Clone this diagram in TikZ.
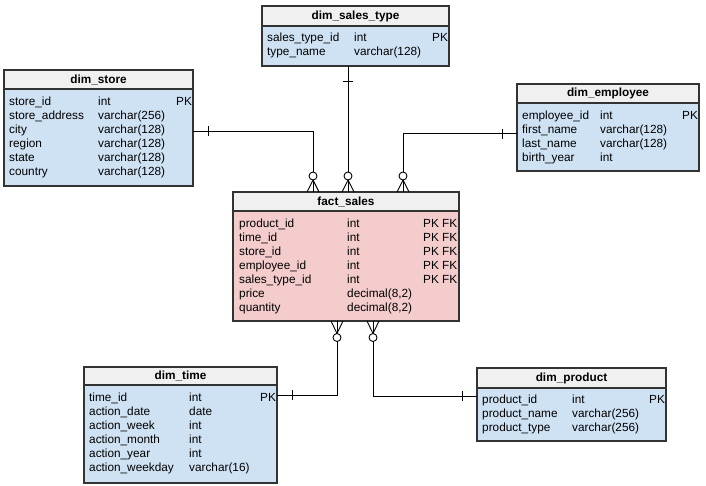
\documentclass[tikz,border=0pt]{standalone}
\usepackage{fontspec}
\setmainfont{Liberation Sans}
\definecolor{bodyblue}{HTML}{CFE2F3}
\definecolor{bodypink}{HTML}{F4CCCC}
\definecolor{headgray}{HTML}{F0F0F0}
\definecolor{edgegray}{HTML}{333333}
\newcommand\ertable[8]{%
  \node[tbl, fill=#7, minimum width=#4pt, minimum height=#5pt] (#1) at (#2,#3) {};
  \node[hdr, minimum width=#4pt, minimum height=#6pt] (#1-h) at (#2,#3) {#8};
}
\newcommand\errows[6]{%
  \foreach \ca/\cb/\cc [count=\i from 0] in {#6} {
    \node[txt] (#1-a\i) at (#2, #5+\i*14) {\ca};
    \node[txt] (#1-b\i) at (#3, #5+\i*14) {\cb};
    \node[txt] (#1-c\i) at (#4, #5+\i*14) {\cc};
  }
}
\begin{document}
\begin{tikzpicture}[x=1pt,y=-1pt,
  tbl/.style={draw=edgegray, line width=1.3pt, anchor=north west, inner sep=0pt, outer sep=0pt},
  hdr/.style={draw=edgegray, line width=1.3pt, fill=headgray, anchor=north west, inner sep=0pt, outer sep=0pt,
              font=\fontsize{11.8}{14}\selectfont\bfseries},
  txt/.style={anchor=base west, inner sep=0pt, font=\fontsize{11.8}{14}\selectfont},
  conn/.style={draw=black, line width=0.9pt},
  crowfoot/.pic={
    \draw[conn] (-6,0) -- (0,-12) -- (6,0);
    \draw[conn] (0,0) -- (0,-12);
    \draw[conn, fill=white] (0,-16) circle[radius=4pt];
  },
  crowfootdown/.pic={
    \draw[conn] (-6,0) -- (0,12.5) -- (6,0);
    \draw[conn] (0,0) -- (0,12.5);
    \draw[conn, fill=white] (0,16.5) circle[radius=4pt];
  },
]
\useasboundingbox (0,0) rectangle (706,485);
\fill[white] (0,0) rectangle (706,485);

% tables
\ertable{store}{4}{70}{189}{116}{19}{bodyblue}{dim\_store}
\errows{store}{9}{98}{176}{105}{store\_id/int/PK, store\_address/varchar(256)/{}, city/varchar(128)/{}, region/varchar(128)/{}, state/varchar(128)/{}, country/varchar(128)/{}}

\ertable{sales}{262}{6}{187}{60}{20}{bodyblue}{dim\_sales\_type}
\errows{sales}{267}{354}{432}{41.5}{sales\_type\_id/int/PK, type\_name/varchar(128)/{}}

\ertable{emp}{517}{84}{182}{87}{19}{bodyblue}{dim\_employee}
\errows{emp}{522}{600}{682}{119}{employee\_id/int/PK, first\_name/varchar(128)/{}, last\_name/varchar(128)/{}, birth\_year/int/{}}

\ertable{fact}{233}{192}{226}{129}{19}{bodypink}{fact\_sales}
\errows{fact}{239}{347}{423}{227}{product\_id/int/PK FK, time\_id/int/PK FK, store\_id/int/PK FK, employee\_id/int/PK FK, sales\_type\_id/int/PK FK, price/{decimal(8,2)}/{}, quantity/{decimal(8,2)}/{}}

\ertable{time}{84}{367}{193}{116}{18}{bodyblue}{dim\_time}
\errows{time}{89}{189}{260}{401}{time\_id/int/PK, action\_date/date/{}, action\_week/int/{}, action\_month/int/{}, action\_year/int/{}, action\_weekday/varchar(16)/{}}

\ertable{prod}{477}{368}{189}{73}{20}{bodyblue}{dim\_product}
\errows{prod}{482}{572}{649}{403}{product\_id/int/PK, product\_name/varchar(256)/{}, product\_type/varchar(256)/{}}

% connectors
\draw[conn] ([yshift=-3pt]store.east) -| ([xshift=-33pt]fact.north);
\draw[conn] ([xshift=15pt,yshift=-3pt]store.east) ++(0,-5) -- ++(0,10);
\pic at ([xshift=-33pt]fact.north) {crowfoot};

\draw[conn] ([xshift=-7.5pt]sales.south) -- ([xshift=2pt]fact.north);
\draw[conn] ([xshift=-7.5pt,yshift=-15pt]sales.south) ++(-5,0) -- ++(10,0);
\pic at ([xshift=2pt]fact.north) {crowfoot};

\draw[conn] ([yshift=-6pt]emp.west) -| ([xshift=57pt]fact.north);
\draw[conn] ([xshift=-15pt,yshift=-6pt]emp.west) ++(0,-5) -- ++(0,10);
\pic at ([xshift=57pt]fact.north) {crowfoot};

\draw[conn] ([yshift=30pt]time.east) -| ([xshift=-9pt]fact.south);
\draw[conn] ([xshift=15pt,yshift=30pt]time.east) ++(0,-5) -- ++(0,10);
\pic at ([xshift=-9pt]fact.south) {crowfootdown};

\draw[conn] ([yshift=8.5pt]prod.west) -| ([xshift=27pt]fact.south);
\draw[conn] ([xshift=-15pt,yshift=8.5pt]prod.west) ++(0,-5) -- ++(0,10);
\pic at ([xshift=27pt]fact.south) {crowfootdown};
\end{tikzpicture}
\end{document}
